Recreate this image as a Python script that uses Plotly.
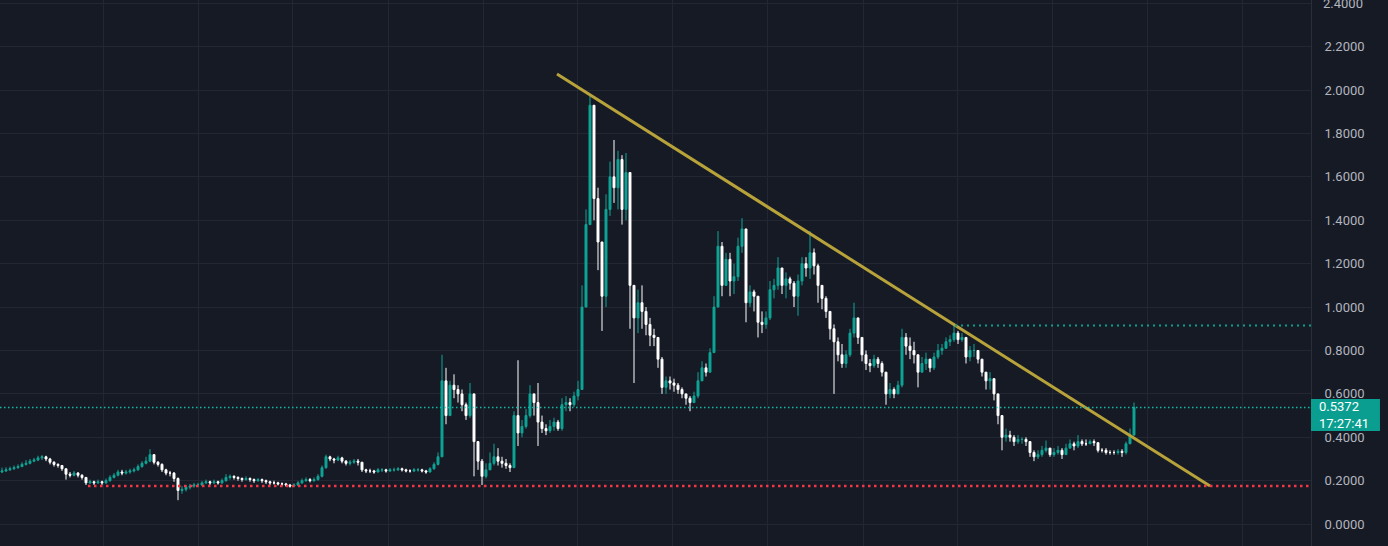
import plotly.graph_objects as go

# ---------------- data ----------------
# segment 1: slow, low-priced period
close_a = [.245, .25, .255, .26, .265, .275, .28, .29, .295, .305,
           .31, .30, .285, .275, .27, .255, .23, .225, .235, .225,
           .215, .19, .195, .19, .195, .19, .2, .215, .225, .24,
           .235, .24, .245, .25, .265, .28, .29, .32, .285, .275,
           .25, .235, .235, .21, .155, .16, .17, .175, .18, .18,
           .19, .195, .19, .195, .19, .2, .215, .22, .215, .21,
           .205, .21, .205, .2, .205, .2, .195, .19, .19, .185,
           .185, .18, .175, .18, .19, .2, .205, .2, .205, .22,
           .26, .31, .3, .295, .305, .29, .28, .285, .29, .285,
           .25, .245, .245, .24, .25, .25, .245, .25, .25, .255,
           .25, .245, .245, .25, .25, .245, .24, .255, .275, .31]
high_a = [.26, .262, .265, .27, .275, .285, .295, .3, .305, .315,
          .318, .315, .305, .29, .28, .272, .255, .24, .245, .24,
          .23, .215, .205, .2, .205, .2, .21, .225, .235, .25,
          .25, .25, .255, .26, .275, .29, .31, .345, .32, .29,
          .28, .255, .245, .24, .215, .175, .18, .185, .19, .19,
          .198, .205, .2, .205, .2, .21, .23, .228, .225, .22,
          .215, .22, .215, .21, .212, .21, .205, .2, .2, .195,
          .192, .19, .185, .188, .198, .21, .215, .212, .215, .23,
          .27, .32, .315, .305, .315, .31, .295, .295, .3, .3,
          .285, .255, .255, .25, .258, .258, .255, .258, .26, .262,
          .26, .255, .252, .258, .258, .255, .25, .262, .285, .33]
low_a = [.235, .24, .245, .25, .255, .262, .27, .275, .285, .29,
         .295, .29, .275, .265, .26, .245, .205, .215, .22, .215,
         .205, .18, .185, .18, .185, .18, .185, .195, .21, .22,
         .225, .228, .232, .238, .245, .26, .275, .285, .275, .265,
         .24, .225, .22, .195, .11, .14, .15, .16, .168, .17,
         .175, .185, .18, .185, .182, .185, .195, .205, .205, .2,
         .195, .2, .195, .19, .195, .19, .185, .18, .182, .178,
         .175, .172, .168, .17, .175, .185, .195, .192, .195, .2,
         .215, .255, .29, .28, .29, .28, .27, .27, .278, .27,
         .24, .235, .235, .232, .238, .24, .237, .24, .242, .245,
         .242, .238, .237, .24, .242, .238, .232, .238, .25, .27]

# segment 2: the big swings
close_b = [.66, .50, .64, .62, .60, .55, .50, .60, .38, .29,
           .22, .25, .28, .31, .29, .28, .27, .26, .50, .42,
           .45, .50, .60, .56, .47, .44, .43, .45, .47, .44,
           .55, .56, .55, .59, .62, 1.00, 1.38, 1.93, 1.50, 1.30,
           1.05, 1.45, 1.60, 1.55, 1.68, 1.45, 1.62, 1.10, .95, 1.02,
           .98, .92, .87, .86, .76, .63, .66, .65, .64, .62,
           .60, .58, .56, .59, .66, .72, .70, .79, 1.00, 1.28,
           1.10, 1.22, 1.12, 1.14, 1.28, 1.36, 1.02, 1.07, 1.05, .93,
           .92, .95, 1.08, 1.10, 1.18, 1.10, 1.13, 1.11, 1.05, 1.12,
           1.20, 1.18, 1.25, 1.19, 1.10, 1.04, .98, .90, .84, .78,
           .74, .78, .88, .95, .86, .78, .74, .73, .76, .74,
           .70, .60, .62, .60, .64, .86, .82, .80, .78, .70,
           .74, .76, .72, .77, .80, .81, .84, .85, .88, .85,
           .86, .77, .80, .80, .76, .70, .66, .67, .60, .50,
           .40, .41, .40, .38, .39, .39, .38, .33, .31, .32,
           .34, .35, .32, .33, .34, .32, .35, .37, .36, .38,
           .37, .37, .38, .375, .34, .34, .33, .33, .33, .335,
           .33, .37, .41, .5372]
high_b = [.78, .72, .66, .69, .64, .62, .56, .65, .60, .37,
          .30, .28, .33, .37, .35, .31, .30, .28, .52, .755,
          .48, .53, .64, .60, .65, .50, .46, .48, .49, .48,
          .58, .59, .58, .61, .66, 1.10, 1.45, 1.98, 1.90, 1.55,
          1.30, 1.52, 1.67, 1.77, 1.72, 1.70, 1.71, 1.62, 1.10, 1.08,
          1.10, 1.00, .95, .90, .86, .77, .68, .68, .67, .65,
          .63, .60, .59, .61, .70, .75, .74, .81, 1.05, 1.35,
          1.30, 1.25, 1.25, 1.20, 1.32, 1.41, 1.36, 1.10, 1.08, 1.05,
          .98, .98, 1.12, 1.13, 1.23, 1.18, 1.16, 1.14, 1.12, 1.15,
          1.23, 1.23, 1.35, 1.27, 1.20, 1.10, 1.05, .98, .92, .86,
          .83, .80, .90, 1.02, .95, .86, .80, .76, .78, .77,
          .75, .70, .65, .63, .66, .90, .88, .86, .84, .78,
          .77, .79, .76, .79, .83, .83, .86, .87, .925, .89,
          .88, .86, .82, .83, .80, .76, .70, .70, .66, .60,
          .50, .44, .43, .41, .41, .40, .40, .38, .34, .34,
          .36, .385, .35, .35, .36, .35, .37, .39, .38, .41,
          .39, .39, .39, .39, .37, .35, .35, .34, .34, .345,
          .345, .38, .44, .56]
low_b = [.31, .46, .50, .58, .56, .52, .48, .49, .22, .25,
         .18, .21, .25, .27, .27, .26, .255, .24, .26, .36,
         .40, .44, .49, .50, .36, .42, .41, .42, .43, .43,
         .43, .52, .52, .54, .57, .62, 1.00, 1.38, 1.40, 1.17,
         .89, 1.00, 1.42, 1.48, 1.45, 1.38, 1.40, .90, .65, .88,
         .90, .87, .82, .82, .72, .60, .60, .62, .61, .60,
         .58, .55, .52, .56, .58, .66, .68, .70, .79, 1.00,
         1.05, 1.10, 1.05, 1.06, 1.12, 1.25, .93, 1.00, .98, .86,
         .88, .90, .94, 1.04, 1.08, 1.06, 1.04, 1.08, 1.00, .96,
         1.10, 1.14, 1.13, 1.15, 1.02, .99, .95, .85, .60, .75,
         .72, .72, .77, .86, .83, .75, .71, .70, .72, .72,
         .68, .55, .58, .58, .60, .63, .78, .76, .74, .63,
         .70, .71, .70, .71, .76, .78, .81, .82, .84, .83,
         .84, .74, .75, .77, .74, .68, .62, .62, .57, .46,
         .34, .38, .38, .36, .37, .37, .36, .31, .29, .30,
         .31, .33, .31, .31, .32, .30, .33, .35, .34, .35,
         .36, .36, .37, .36, .33, .33, .32, .32, .32, .32,
         .31, .32, .37, .41]

closes = close_a + close_b
highs = high_a + high_b
lows = low_a + low_b
n = min(len(closes), len(highs), len(lows))
closes, highs, lows = closes[:n], highs[:n], lows[:n]
opens = [0.24] + closes[:-1]
idx = list(range(n))

price_ticks = [0.0, 0.2, 0.4, 0.6, 0.8, 1.0, 1.2, 1.4, 1.6, 1.8, 2.0, 2.2, 2.4]
grid_ticks = [25.25, 49, 72.5, 96.5, 120.25, 143.75, 167.5, 191.25, 215.25,
              238.75, 262.5, 286.25, 310]
x_range = [-0.5, 327.25]
y_range = [-0.101, 2.415]

trend_x = [138.75, 302]
trend_y = [2.074, 0.175]
support_level = 0.175
support_start = 21.5
resist_level = 0.915
resist_start = 238.25
last_price = closes[-1]
last_label = "0.5372"
countdown = "17:27:41"

# ---------------- styling ----------------
BG = "#161a25"
GRID = "#232733"
UP = "#0fa596"
DOWN = "#ffffff"
BADGE = "#0a9e90"
TXT = "#b2b5be"
FONT = "Roboto, 'Noto Sans', sans-serif"

fig = go.Figure()
fig.add_trace(go.Candlestick(
    x=idx, open=opens, high=highs, low=lows, close=closes,
    increasing=dict(line=dict(color=UP, width=1), fillcolor=UP),
    decreasing=dict(line=dict(color=DOWN, width=1), fillcolor=DOWN),
    whiskerwidth=0, hoverinfo="skip", showlegend=False,
))

# trend line
fig.add_trace(go.Scatter(x=trend_x, y=trend_y, mode="lines",
                         line=dict(color="#b8a33a", width=3),
                         hoverinfo="skip", showlegend=False))

# dotted levels
fig.add_shape(type="line", xref="x", yref="y", x0=support_start, x1=x_range[1] + 5,
              y0=support_level, y1=support_level,
              line=dict(color="#f23645", width=2.5, dash="2.5px,3.5px"))
fig.add_shape(type="line", xref="x", yref="y", x0=resist_start, x1=x_range[1] + 5,
              y0=resist_level, y1=resist_level,
              line=dict(color="#0f9d8c", width=2, dash="2px,4px"))
fig.add_shape(type="line", xref="x", yref="y", x0=x_range[0] - 5, x1=x_range[1] + 5,
              y0=last_price, y1=last_price,
              line=dict(color="#14b8a6", width=1.5, dash="1.5px,2.5px"))

# top price label that the axis would hide because it overflows the figure
fig.add_annotation(xref="paper", yref="y", x=1.0076, y=price_ticks[-1], xanchor="left",
                   yanchor="middle", showarrow=False, text=f"{price_ticks[-1]:.4f}",
                   font=dict(family=FONT, size=13, color=TXT))

# last price badge on the price scale
fig.add_shape(type="rect", xref="paper", yref="y", x0=1.0, x1=1.0526,
              y0=0.4286, y1=0.576, fillcolor=BADGE, line=dict(width=0), layer="above")
fig.add_annotation(xref="paper", yref="y", x=1.0045, y=0.5023, xanchor="left",
                   yanchor="middle", align="left", showarrow=False,
                   text=f"{last_label}<br>{countdown}",
                   font=dict(family=FONT, size=13, color="#ffffff"))

fig.update_layout(
    width=1388, height=546,
    margin=dict(l=0, r=77, t=0, b=0),
    paper_bgcolor=BG, plot_bgcolor=BG,
    showlegend=False,
    font=dict(family=FONT, size=13, color=TXT),
    xaxis=dict(range=x_range, rangeslider=dict(visible=False),
               showgrid=True, gridcolor=GRID, gridwidth=1,
               tickvals=grid_ticks, showticklabels=False,
               zeroline=False, showline=False, ticks=""),
    yaxis=dict(side="right", range=y_range, tickvals=price_ticks,
               tickformat=".4f", showgrid=True, gridcolor=GRID, gridwidth=1,
               zeroline=False, showline=True, linecolor="#2a2e39", linewidth=1,
               ticks="", ticklabelstandoff=10,
               tickfont=dict(family=FONT, size=13, color=TXT)),
)

fig.write_html("out.html", config={"displayModeBar": False},
               post_script="document.body.style.margin='0';")
